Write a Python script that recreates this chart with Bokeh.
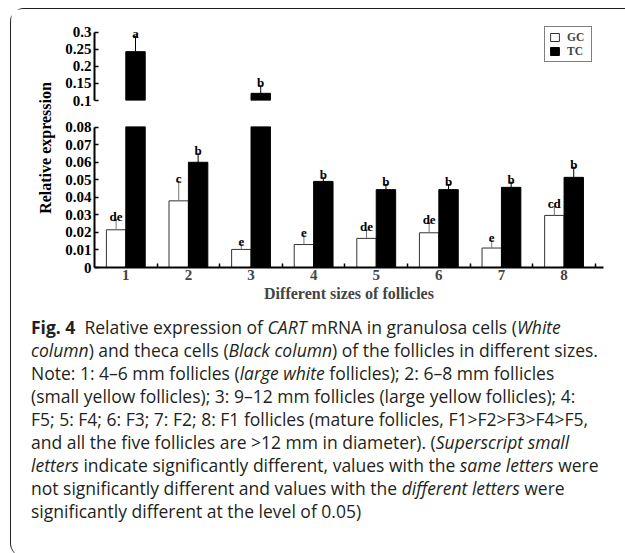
from bokeh.plotting import figure
from bokeh.models import (ColumnDataSource, FixedTicker, Range1d, Label, Div, Legend, LegendItem,
                          CDSView, IndexFilter)
from bokeh.layouts import column, row
from bokeh.embed import file_html
from bokeh.resources import INLINE
from bokeh.core.properties import value

# ---------------- data ----------------
categories = ["1", "2", "3", "4", "5", "6", "7", "8"]
gc_values = [0.0215, 0.038, 0.0103, 0.0131, 0.0166, 0.0198, 0.0111, 0.0297]
gc_errors = [0.0059, 0.011, 0.0028, 0.0049, 0.0048, 0.0056, 0.0042, 0.0050]
tc_values = [0.243, 0.060, 0.121, 0.0491, 0.0444, 0.0444, 0.0457, 0.0514]
tc_errors = [0.045, 0.0048, 0.022, 0.0020, 0.0029, 0.0029, 0.0029, 0.0057]
gc_letters = ["de", "c", "e", "e", "de", "de", "e", "cd"]
tc_letters = ["a", "b", "b", "b", "b", "b", "b", "b"]
upper_ticks = [0.1, 0.15, 0.2, 0.25, 0.3]
upper_tick_labels = ["0.1", "0.15", "0.2", "0.25", "0.3"]
lower_ticks = [0, 0.01, 0.02, 0.03, 0.04, 0.05, 0.06, 0.07, 0.08]
lower_tick_labels = ["0", "0.01", "0.02", "0.03", "0.04", "0.05", "0.06", "0.07", "0.08"]
series_names = ["GC", "TC"]
y_title = "Relative expression"
x_title = "Different sizes of follicles"

caption_lines = [
    "<b>Fig.&nbsp;4</b>&nbsp; Relative expression of <i>CART</i> mRNA in granulosa cells (<i>White</i>",
    "<i>column</i>) and theca cells (<i>Black column</i>) of the follicles in different sizes.",
    "Note: 1: 4\u20136 mm follicles (<i>large white</i> follicles); 2: 6\u20138 mm follicles",
    "(small yellow follicles); 3: 9\u201312 mm follicles (large yellow follicles); 4:",
    "F5; 5: F4; 6: F3; 7: F2; 8: F1 follicles (mature follicles, F1&gt;F2&gt;F3&gt;F4&gt;F5,",
    "and all the five follicles are &gt;12 mm in diameter). (<i>Superscript small</i>",
    "<i>letters</i> indicate significantly different, values with the <i>same letters</i> were",
    "not significantly different and values with the <i>different letters</i> were",
    "significantly different at the level of 0.05)",
]

# ---------------- style ----------------
SERIF = "Liberation Serif"
BAR_W = 0.31
DODGE = 0.155
CAP = 0.04
FIG_W = 558
GC_STYLE = dict(fill_color="white", line_color="#333333", line_width=1)
TC_STYLE = dict(fill_color="black", line_color="black", line_width=1)

xpos = list(range(1, len(categories) + 1))


def series_source(xs, vals, errs, letters):
    return ColumnDataSource(dict(
        x=xs, top=vals, hi=[v + e for v, e in zip(vals, errs)],
        l=[v - CAP for v in xs], r=[v + CAP for v in xs], lab=letters))


def panel(height, y0, y1, bounds, ticks, tick_labels, mb_top, mb_bottom, with_x, bar_keep, mark_keep):
    p = figure(width=FIG_W, height=height, x_range=Range1d(0.5, 8.63),
               y_range=Range1d(y0, y1), output_backend="svg", toolbar_location=None,
               x_axis_location="below" if with_x else None,
               min_border_left=35, min_border_right=14,
               min_border_top=mb_top, min_border_bottom=mb_bottom)
    p.outline_line_color = None
    p.xgrid.visible = False
    p.ygrid.visible = False
    p.background_fill_color = None
    p.border_fill_color = None

    ya = p.yaxis[0]
    ya.ticker = FixedTicker(ticks=ticks)
    ya.major_label_overrides = {t: s for t, s in zip(ticks, tick_labels)}
    ya.bounds = bounds
    ya.axis_line_width = 2
    ya.axis_line_color = "black"
    ya.major_tick_in = 4
    ya.major_tick_out = 0
    ya.major_tick_line_width = 1.5
    ya.minor_tick_line_color = None
    ya.major_label_standoff = 3
    ya.major_label_text_font = SERIF
    ya.major_label_text_font_style = "bold"
    ya.major_label_text_font_size = "15px"
    ya.major_label_text_color = "black"

    if with_x:
        xa = p.xaxis[0]
        xa.ticker = FixedTicker(ticks=xpos, minor_ticks=[v + 0.5 for v in xpos])
        xa.major_label_overrides = {v: c for v, c in zip(xpos, categories)}
        xa.major_tick_line_color = None
        xa.major_tick_in = 0
        xa.major_tick_out = 0
        xa.minor_tick_in = 4
        xa.minor_tick_out = 0
        xa.minor_tick_line_width = 1.5
        xa.minor_tick_line_color = "black"
        xa.axis_line_width = 2
        xa.axis_line_color = "black"
        xa.major_label_standoff = 2
        xa.major_label_text_font = SERIF
        xa.major_label_text_font_style = "bold"
        xa.major_label_text_font_size = "15px"
        xa.axis_label = x_title
        xa.axis_label_standoff = 2
        xa.axis_label_text_font = SERIF
        xa.axis_label_text_font_style = "bold"
        xa.axis_label_text_font_size = "16px"

    sources = []
    for xs, vals, errs, letters, style, err_col in (
        ([v - DODGE for v in xpos], gc_values, gc_errors, gc_letters, GC_STYLE, "#777777"),
        ([v + DODGE for v in xpos], tc_values, tc_errors, tc_letters, TC_STYLE, "black"),
    ):
        src = series_source(xs, vals, errs, letters)
        sources.append(src)
        bar_idx = [i for i, (v, e) in enumerate(zip(vals, errs)) if bar_keep(v, v + e)]
        mark_idx = [i for i, (v, e) in enumerate(zip(vals, errs)) if mark_keep(v, v + e)]
        if bar_idx:
            p.vbar(x="x", top="top", bottom=0, width=BAR_W, source=src,
                   view=CDSView(filter=IndexFilter(indices=bar_idx)), **style)
        if mark_idx:
            mview = CDSView(filter=IndexFilter(indices=mark_idx))
            p.segment(x0="x", y0="top", x1="x", y1="hi", source=src, view=mview,
                      line_color=err_col, line_width=1)
            p.segment(x0="l", y0="hi", x1="r", y1="hi", source=src, view=mview,
                      line_color=err_col, line_width=1)
            p.text(x="x", y="hi", text="lab", source=src, view=mview, text_align="center",
                   text_baseline="alphabetic", y_offset=-3, text_font=value(SERIF),
                   text_font_style="bold", text_font_size="13px", text_color="black")
    return p, sources


# upper panel: 0.1 .. 0.3 (frame 81px high, 341.5 px per unit)
U0, L1 = upper_ticks[0], lower_ticks[-1]
top_h = 99
p_top, (src_gc, src_tc) = panel(top_h, U0, U0 + 81 / 341.5, (U0, upper_ticks[-1]), upper_ticks,
                                upper_tick_labels, 10, 8, False,
                                lambda v, hi: v > U0, lambda v, hi: v > U0)

# legend swatches: hidden renderers carrying each series' style
leg_gc = p_top.vbar(x="x", top="top", bottom=0, width=BAR_W, source=src_gc, visible=False, **GC_STYLE)
leg_tc = p_top.vbar(x="x", top="top", bottom=0, width=BAR_W, source=src_tc, visible=False, **TC_STYLE)
legend = Legend(items=[LegendItem(label=series_names[0], renderers=[leg_gc]),
                       LegendItem(label=series_names[1], renderers=[leg_tc])],
                location=(450, 38), orientation="vertical")
legend.inactive_fill_alpha = 0
legend.border_line_color = "black"
legend.border_line_width = 1
legend.background_fill_color = "white"
legend.background_fill_alpha = 1
legend.padding = 4
legend.spacing = 2
legend.margin = 0
legend.glyph_width = 11
legend.glyph_height = 10
legend.label_height = 12
legend.label_standoff = 7
legend.label_text_font = SERIF
legend.label_text_font_style = "bold"
legend.label_text_font_size = "11.5px"
legend.label_text_line_height = 1.0
p_top.add_layout(legend)

# lower panel: 0 .. 0.08 (1750 px per unit)
bot_h = 203
p_bot, _ = panel(bot_h, 0, L1 + 0.0004, (0, L1), lower_ticks, lower_tick_labels, 18, 44, True,
                 lambda v, hi: True, lambda v, hi: hi <= L1)

# y-axis title spanning both panels
total_h = top_h + bot_h
lab_fig = figure(width=48, height=total_h, x_axis_location=None, y_axis_location=None,
                 output_backend="svg", toolbar_location=None, min_border=0,
                 x_range=Range1d(0, 1), y_range=Range1d(0, 1))
lab_fig.outline_line_color = None
lab_fig.xgrid.visible = False
lab_fig.ygrid.visible = False
lab_fig.add_layout(Label(x=33.5, y=total_h - 138.5, x_units="screen", y_units="screen",
                         text=y_title, angle=90, angle_units="deg", text_align="center",
                         text_baseline="middle", text_font=SERIF, text_font_style="bold",
                         text_font_size="16px", text_color="black"))

caption_html = (
    '<div style="font-family:\'Open Sans\';font-size:17.5px;line-height:23px;color:#231f20;'
    'padding:0 0 0 15px;white-space:nowrap;">' + "<br>".join(caption_lines) + "</div>"
)
caption = Div(text=caption_html, width=613, height=236)

layout = column(
    row(lab_fig, column(p_top, p_bot, spacing=0), spacing=0),
    caption,
    spacing=0,
    styles={"margin-left": "10px", "margin-top": "8px",
            "border-top": "1.5px solid #231f20", "border-left": "1.5px solid #231f20",
            "border-top-left-radius": "14px", "border-bottom-left-radius": "14px"},
)

open("out.html", "w").write(file_html(layout, INLINE))
